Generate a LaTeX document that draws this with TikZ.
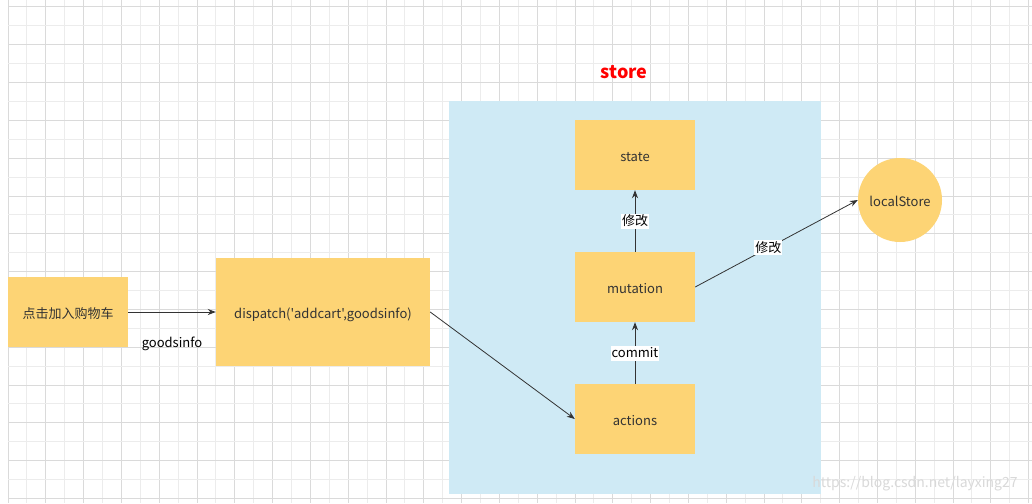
\documentclass[tikz,border=0pt]{standalone}
\usepackage{fontspec}
\newfontfamily\yahei{Noto Sans CJK SC}
\usetikzlibrary{arrows, arrows.meta, positioning, shapes.geometric}

\definecolor{boxyellow}{RGB}{253,212,117}
\definecolor{storeblue}{RGB}{207,234,245}
\definecolor{gridminor}{RGB}{236,236,236}
\definecolor{gridmajor}{RGB}{218,218,218}
\definecolor{linegray}{RGB}{51,51,51}

\tikzset{
  txt/.style={font=\yahei\fontsize{13}{15}\selectfont, text height=12pt, text depth=0pt},
  box/.style={txt, fill=boxyellow, inner sep=0pt, minimum width=120pt, minimum height=70pt,
    text=linegray},
  lbl/.style={txt, fill=white, inner sep=1pt, text height=11pt, text depth=2pt, text=black},
  flow/.style={draw=linegray, line width=0.8pt, -{Stealth[length=8pt,width=6pt]}}
}

\begin{document}
\begin{tikzpicture}[x=1pt, y=-1pt]
\useasboundingbox (0,0) rectangle (1032,503);
\fill[white] (0,0) rectangle (1032,503);

% grid
\foreach \i in {0,...,54} {
  \pgfmathsetmacro{\gx}{8+18.9*\i}
  \pgfmathparse{mod(\i,2)==0 ? "gridmajor" : "gridminor"}
  \draw[\pgfmathresult, line width=1pt] (\gx,0) -- (\gx,503);
}
\foreach \i in {0,...,26} {
  \pgfmathsetmacro{\gy}{7+18.9*\i}
  \pgfmathparse{mod(\i,2)==0 ? "gridmajor" : "gridminor"}
  \draw[\pgfmathresult, line width=1pt] (8,\gy) -- (1032,\gy);
}

% nodes
\node[fill=storeblue, minimum width=372pt, minimum height=393pt, inner sep=0pt] (store) at (635,297.5) {};
\node[text=red, font=\yahei\bfseries\fontsize{18}{20}\selectfont] (title) at (624,72) {store};

\node[box] (cart) at (68,312) {点击加入购物车};
\node[box, minimum width=214pt, minimum height=108pt] (dispatch) at (323,312) {dispatch('addcart',goodsinfo)};
\node[txt, text=black] (goods) at (172,341) {goodsinfo};

\node[box] (state) at (635,155) {state};
\node[box] (mutation) at (635,287) {mutation};
\node[box] (actions) at (635,419) {actions};
\node[box, circle, minimum size=84pt] (local) at (900,200) {localStore};

\node[text=black!15, font=\yahei\fontsize{14}{16}\selectfont] (mark) at (915,484) {https://blog.csdn.net/layxing27};

% arrows
\draw[flow] (cart) -- (dispatch);
\draw[flow] (dispatch.east) -- (actions.west);
\draw[flow] (actions) -- node[lbl] {commit} (mutation);
\draw[flow] (mutation) -- node[lbl] {修改} (state);
\draw[flow] (mutation.east) -- node[lbl, pos=0.45] {修改} (local.west);

\end{tikzpicture}
\end{document}
